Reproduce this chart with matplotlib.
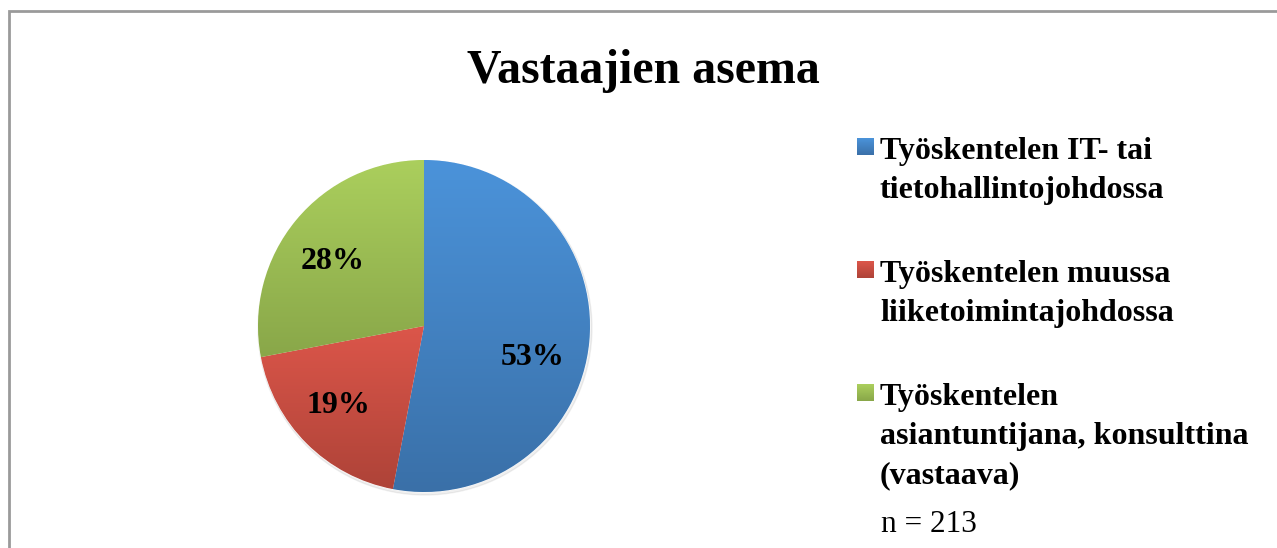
import numpy as np
import matplotlib
matplotlib.use("Agg")
import matplotlib.pyplot as plt
from matplotlib.patches import Rectangle
from matplotlib.colors import LinearSegmentedColormap

# ---- data ----
title = "Vastaajien asema"
categories = [
    "Työskentelen IT- tai\ntietohallintojohdossa",
    "Työskentelen muussa\nliiketoimintajohdossa",
    "Työskentelen\nasiantuntijana, konsulttina\n(vastaava)",
]
values = [53, 19, 28]
note = "n = 213"

# ---- style ----
W, H = 1277, 548
top_colors = ["#4B93DA", "#DC564A", "#ABCF5D"]
bottom_colors = ["#3A70A8", "#AE4338", "#89A749"]
serif = ["Liberation Serif", "DejaVu Serif"]

fig = plt.figure(figsize=(W / 100, H / 100), dpi=100)
ax = fig.add_axes([0, 0, 1, 1])

def py(y):
    return H - y

cx, cy, r = 424, py(326), 166
wedges, _, pcts = ax.pie(
    values, startangle=90, counterclock=False, center=(cx, cy), radius=r,
    colors=top_colors, autopct=lambda p: f"{p:.0f}%", pctdistance=0.68,
    wedgeprops=dict(edgecolor="white", linewidth=0.6),
    textprops=dict(fontsize=23, fontweight="bold", family=serif, color="black"),
)

# faint shadow under the pie
shadow = plt.Circle((cx + 1, cy - 2), r + 1, color="#000000", alpha=0.06, zorder=0.5)
ax.add_patch(shadow)

# vertical gradients clipped to each wedge
for w, c0, c1 in zip(wedges, top_colors, bottom_colors):
    ext = w.get_path().get_extents()
    cmap = LinearSegmentedColormap.from_list("g", [c1, c0])
    grad = np.linspace(0, 1, 256).reshape(-1, 1)
    im = ax.imshow(grad, cmap=cmap, origin="lower", aspect="auto",
                   extent=(ext.x0, ext.x1, ext.y0, ext.y1), zorder=w.get_zorder() + 0.1,
                   interpolation="bilinear")
    im.set_clip_path(w)
for t in pcts:
    t.set_zorder(5)

# label nudges (pixels) to match the reference placement
nudges = [(-4, -21), (-6, 0), (-4, -7)]
for t, (dx, dy) in zip(pcts, nudges):
    x, y = t.get_position()
    t.set_position((x + dx, y + dy))

# title
ax.text(643, py(83), title, fontsize=34.5, fontweight="bold", family=serif,
        ha="center", va="baseline")

# legend
line_h = 39
y = 159
for lab, c0, c1 in zip(categories, top_colors, bottom_colors):
    lines = lab.split("\n")
    cmap = LinearSegmentedColormap.from_list("g", [c1, c0])
    grad = np.linspace(0, 1, 64).reshape(-1, 1)
    ax.imshow(grad, cmap=cmap, origin="lower", aspect="auto",
              extent=(857, 874, py(y - 4), py(y - 21)), zorder=3)
    for i, ln in enumerate(lines):
        ax.text(880, py(y + i * line_h), ln, fontsize=23, fontweight="bold",
                family=serif, ha="left", va="baseline")
    y += len(lines) * line_h + 45

ax.text(881, py(532), note, fontsize=22.5, family=serif, ha="left", va="baseline")

# chart-area border (continues past right/bottom image edge)
ax.add_patch(Rectangle((8.5, py(10.5) - 600), 1400, 600, fill=False,
                       edgecolor="#9A9A9A", linewidth=2.0, zorder=6))

ax.set_xlim(0, W)
ax.set_ylim(0, H)
ax.set_aspect("equal")
ax.axis("off")
fig.savefig("out.png", dpi=100)
